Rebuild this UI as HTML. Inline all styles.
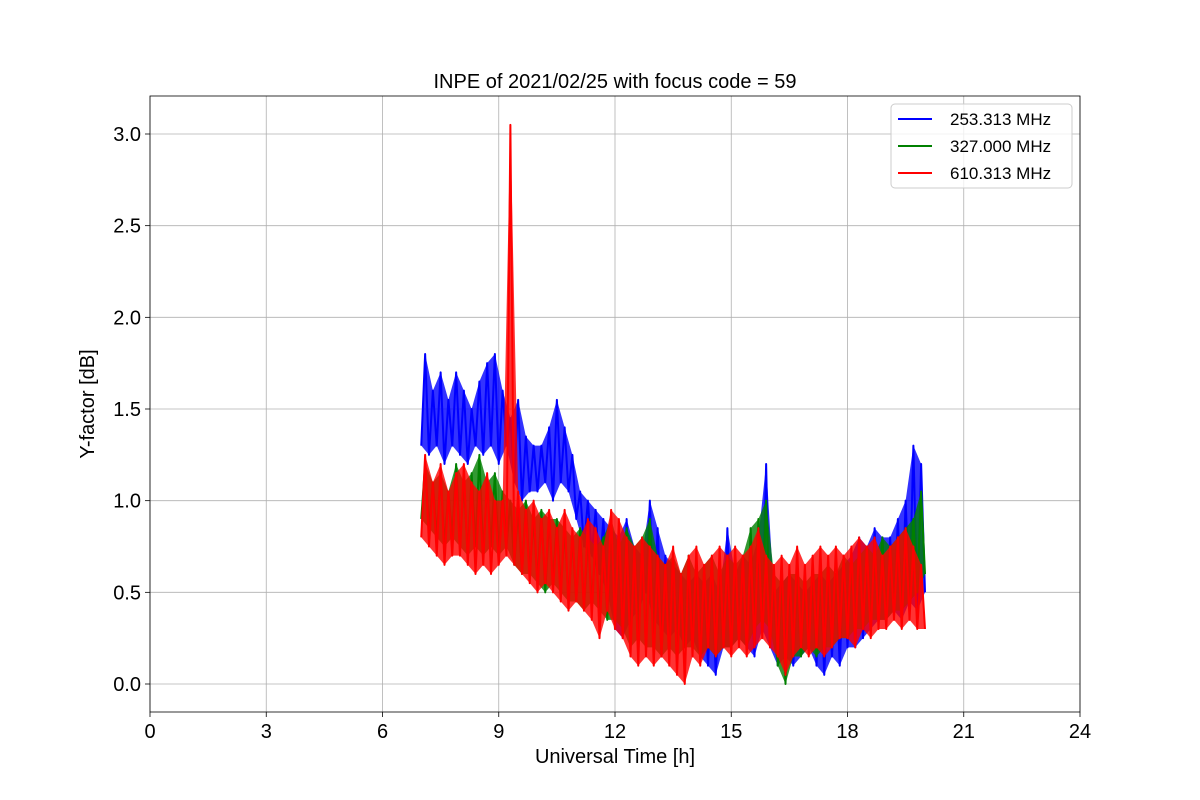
<!DOCTYPE html>
<html><head><meta charset="utf-8"><style>
body{margin:0;background:#fff;font-family:"Liberation Sans","DejaVu Sans",sans-serif}
svg{display:block}
</style></head><body>
<svg id="chart" width="1200" height="800" xmlns="http://www.w3.org/2000/svg"></svg>
<script>
const t0 = 7.0;
const dt = 0.1;
const xTicks = [0,3,6,9,12,15,18,21,24];
const yTicks = [0.0,0.5,1.0,1.5,2.0,2.5,3.0];
const seriesNames = ["253.313 MHz","327.000 MHz","610.313 MHz"];
const seriesColors = ["#0000ff","#008000","#ff0000"];
const blue = [1.3,1.8,1.25,1.6,1.3,1.7,1.2,1.55,1.3,1.7,
1.25,1.6,1.2,1.5,1.3,1.65,1.25,1.75,1.3,1.8,
1.2,1.6,1.3,1.45,1.1,1.55,1.0,1.35,1.05,1.3,
1.05,1.3,1.1,1.4,1.0,1.55,1.1,1.4,1.05,1.25,
0.9,1.05,0.75,1.0,0.7,0.95,0.6,0.9,0.5,0.85,
0.3,0.8,0.25,0.9,0.35,0.75,0.4,0.7,0.5,1.0,
0.35,0.85,0.3,0.7,0.25,0.65,0.3,0.6,0.2,0.55,
0.25,0.6,0.15,0.55,0.1,0.6,0.05,0.5,0.2,0.85,
0.2,0.6,0.25,0.7,0.2,0.65,0.15,0.8,0.3,1.2,
0.2,0.5,0.1,0.55,0.15,0.6,0.1,0.55,0.15,0.5,
0.2,0.55,0.1,0.6,0.05,0.55,0.15,0.6,0.1,0.65,
0.2,0.7,0.2,0.8,0.25,0.75,0.3,0.85,0.35,0.8,
0.35,0.8,0.4,0.9,0.35,1.0,0.45,1.3,0.4,1.2,0.5];
const green = [0.9,1.2,0.85,1.1,0.8,1.15,0.75,1.05,0.8,1.2,
0.75,1.1,0.7,1.15,0.75,1.25,0.7,1.1,0.75,1.15,
0.7,1.05,0.75,1.0,0.65,0.95,0.6,1.0,0.6,0.9,
0.55,0.95,0.5,0.9,0.55,0.9,0.5,0.85,0.45,0.8,
0.45,0.85,0.4,0.8,0.45,0.75,0.4,0.8,0.35,0.9,
0.35,0.75,0.3,0.85,0.2,0.75,0.25,0.8,0.2,0.9,
0.2,0.7,0.15,0.65,0.2,0.7,0.15,0.6,0.2,0.7,
0.2,0.6,0.15,0.65,0.2,0.7,0.15,0.6,0.2,0.7,
0.2,0.65,0.25,0.7,0.2,0.85,0.3,0.9,0.35,1.0,
0.3,0.6,0.1,0.55,0.0,0.6,0.15,0.6,0.15,0.55,
0.2,0.6,0.15,0.6,0.2,0.65,0.2,0.6,0.25,0.7,
0.25,0.65,0.3,0.7,0.3,0.75,0.35,0.7,0.35,0.8,
0.35,0.75,0.4,0.8,0.4,0.85,0.45,0.9,0.5,1.05,0.6];
const red = [0.8,1.25,0.75,1.1,0.7,1.2,0.65,1.05,0.7,1.15,
0.7,1.2,0.65,1.1,0.6,1.05,0.65,1.15,0.6,1.0,
0.65,1.0,0.7,3.05,0.65,1.05,0.6,0.95,0.55,1.0,
0.5,0.9,0.55,0.95,0.5,0.85,0.45,0.95,0.4,0.85,
0.45,0.8,0.4,0.9,0.35,0.85,0.25,0.75,0.4,0.95,
0.3,0.9,0.25,0.8,0.15,0.75,0.1,0.8,0.15,0.75,
0.1,0.7,0.15,0.65,0.1,0.75,0.05,0.6,0.0,0.7,
0.15,0.75,0.1,0.65,0.2,0.7,0.15,0.75,0.2,0.7,
0.15,0.75,0.2,0.7,0.15,0.75,0.2,0.85,0.25,0.7,
0.2,0.65,0.15,0.7,0.05,0.65,0.15,0.75,0.2,0.65,
0.15,0.7,0.2,0.75,0.15,0.7,0.2,0.75,0.25,0.7,
0.25,0.75,0.2,0.8,0.3,0.75,0.25,0.8,0.3,0.7,
0.3,0.75,0.35,0.8,0.3,0.85,0.35,0.75,0.3,0.65,0.3];

const NS="http://www.w3.org/2000/svg";
const svg=document.getElementById('chart');
const L=150,R=1080,T=96,B=712;
const x=v=>L+(v-0)/24*(R-L);
const y=v=>684-(v/3.0)*550;
function mk(tag,attrs,parent){const e=document.createElementNS(NS,tag);for(const k in attrs)e.setAttribute(k,attrs[k]);(parent||svg).appendChild(e);return e;}

xTicks.forEach(v=>{
  const g=mk('line',{x1:x(v),x2:x(v),y1:T,y2:B,stroke:'#b0b0b0','stroke-width':0.8});
  
  
  const tk=mk('line',{x1:x(v),x2:x(v),y1:B,y2:B+5,stroke:'#000','stroke-width':0.8});
  
  
  const tx=mk('text',{x:x(v),y:B+26,'text-anchor':'middle','font-size':20,fill:'#000'});
  tx.textContent=v;
  
  
});
yTicks.forEach(v=>{
  const g=mk('line',{x1:L,x2:R,y1:y(v),y2:y(v),stroke:'#b0b0b0','stroke-width':0.8});
  
  
  const tk=mk('line',{x1:L-5,x2:L,y1:y(v),y2:y(v),stroke:'#000','stroke-width':0.8});
  
  
  const tx=mk('text',{x:L-9,y:y(v)+7,'text-anchor':'end','font-size':20,fill:'#000'});
  tx.textContent=v.toFixed(1);
  
  
});

const clip=mk('clipPath',{id:'pc'});mk('rect',{x:L,y:T,width:R-L,height:B-T},clip);
[blue,green,red].forEach((arr,si)=>{
  // envelope band: odd indices = local highs, even = local lows
  const hi=[],lo=[];
  arr.forEach((v,i)=>{const p=x(t0+i*dt).toFixed(2)+','+y(v).toFixed(2);(i%2?hi:lo).push(p);});
  const band=mk('polygon',{points:hi.concat(lo.slice().reverse()).join(' '),fill:seriesColors[si],'fill-opacity':0.8,stroke:'none','clip-path':'url(#pc)'});
  
  
  const d=arr.map((v,i)=>(i?'L':'M')+x(t0+i*dt).toFixed(2)+','+y(v).toFixed(2)).join('');
  const p=mk('path',{d:d,fill:'none',stroke:seriesColors[si],'stroke-width':2,'stroke-linejoin':'round','clip-path':'url(#pc)'});
  
  
});

const fr=mk('rect',{x:L,y:T,width:R-L,height:B-T,fill:'none',stroke:'#000','stroke-width':0.8});



const tt=mk('text',{x:615,y:88,'text-anchor':'middle','font-size':20,fill:'#000'});
tt.textContent='INPE of 2021/02/25 with focus code = 59';


const xt=mk('text',{x:615,y:763,'text-anchor':'middle','font-size':20,fill:'#000'});
xt.textContent='Universal Time [h]';


const yt=mk('text',{x:0,y:0,'text-anchor':'middle','font-size':20,fill:'#000',transform:'translate(94,404) rotate(-90)'});
yt.textContent='Y-factor [dB]';



const lg=mk('g',{});


mk('rect',{x:891,y:104,width:181,height:84,rx:4,fill:'#fff','fill-opacity':0.8,stroke:'#ccc'},lg);
seriesNames.forEach((n,i)=>{
  const yy=119+i*27;
  const ln=mk('line',{x1:898,x2:932,y1:yy,y2:yy,stroke:seriesColors[i],'stroke-width':2},lg);
  
  
  const tx=mk('text',{x:950,y:yy+6,'font-size':17,fill:'#000'},lg);
  tx.textContent=n;
  
  
});
</script>
</body></html>
